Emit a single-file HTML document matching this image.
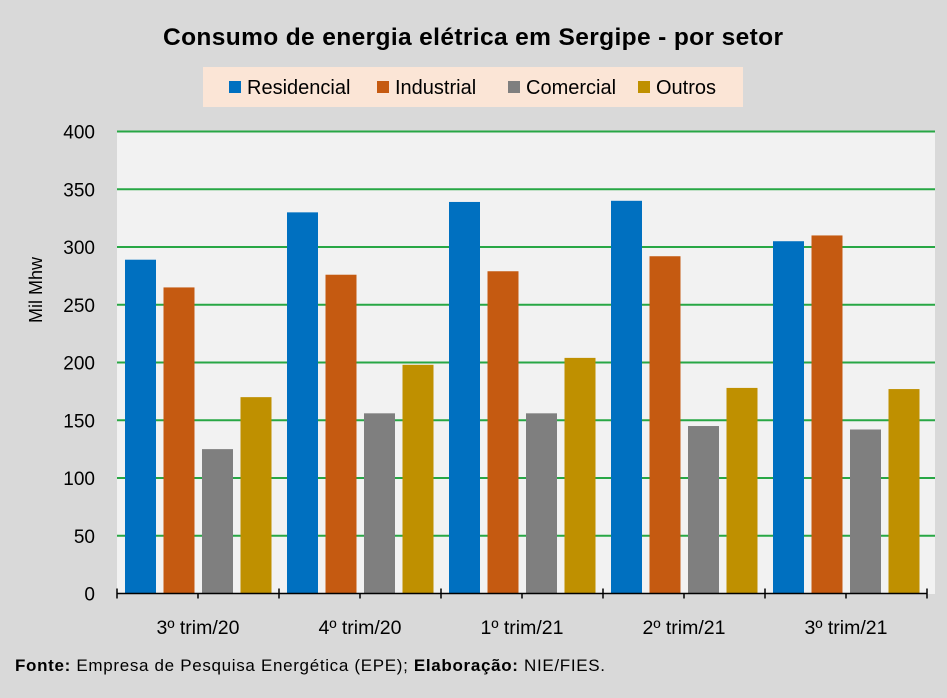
<!DOCTYPE html>
<html><head><meta charset="utf-8"><style>
body{margin:0;width:947px;height:693px;background:#d9d9d9;font-family:"Liberation Sans",sans-serif;overflow:hidden}
</style></head><body>
<svg id="c" width="947" height="693" style="font-family:'Liberation Sans',sans-serif">
<text x="473" y="45" text-anchor="middle" font-size="24.5" font-weight="bold" textLength="620">Consumo de energia elétrica em Sergipe - por setor</text>
<rect x="203" y="67" width="540" height="40" fill="#fbe5d6"/>
<g id="legend"></g>
<rect x="117" y="131" width="818" height="463" fill="#f2f2f2"/>
<g id="grid"></g><g id="bars"></g><g id="axes"></g>
<text transform="translate(42,290) rotate(-90)" text-anchor="middle" font-size="18">Mil Mhw</text>
<text x="15" y="671" font-size="17" textLength="590"><tspan font-weight="bold">Fonte:</tspan> Empresa de Pesquisa Energética (EPE); <tspan font-weight="bold">Elaboração:</tspan>  NIE/FIES.</text>
</svg>
<script>
const categories=["3º trim/20","4º trim/20","1º trim/21","2º trim/21","3º trim/21"];
const seriesNames=["Residencial","Industrial","Comercial","Outros"];
const residencial=[289,330,339,340,305];
const industrial=[265,276,279,292,310];
const comercial=[125,156,156,145,142];
const outros=[170,198,204,178,177];
const yTicks=[0,50,100,150,200,250,300,350,400];
const colors=["#0070c0","#c55a11","#7f7f7f","#bf9000"];
const series=[residencial,industrial,comercial,outros];
const NS="http://www.w3.org/2000/svg";
const x0=117,gw=162,y0=593.5,yMax=400,ph=462;
const y=v=>y0-v/yMax*ph;
function mk(t,a,p){const e=document.createElementNS(NS,t);for(const k in a)e.setAttribute(k,a[k]);p.appendChild(e);return e;}
const grid=document.getElementById('grid'),bars=document.getElementById('bars'),axes=document.getElementById('axes'),leg=document.getElementById('legend');
yTicks.forEach(t=>{
 if(t>0){const l=mk('line',{x1:x0,x2:935,y1:y(t),y2:y(t),stroke:'#28a745','stroke-width':2},grid);
 
 }
 const tx=mk('text',{x:95,y:y(t)+7,'text-anchor':'end','font-size':19},axes);tx.textContent=t;
 
 
});
series.forEach((s,si)=>s.forEach((v,i)=>{
 const r=mk('rect',{x:x0+i*gw+8+si*38.5,y:y(v),width:31,height:y0-y(v),fill:colors[si]},bars);
 
 
}));
const ax=mk('line',{x1:x0,x2:x0+5*gw,y1:y0,y2:y0,stroke:'#000','stroke-width':1.5},axes);


for(let i=0;i<=5;i++){const tk=mk('line',{x1:x0+i*gw,x2:x0+i*gw,y1:y0-5,y2:y0+5,stroke:'#000','stroke-width':1.5},axes);
 
 }
categories.forEach((c,i)=>{
 const tk=mk('line',{x1:x0+i*gw+gw/2,x2:x0+i*gw+gw/2,y1:y0,y2:y0+5,stroke:'#000','stroke-width':1.5},axes);
 
 
 const t=mk('text',{x:x0+i*gw+gw/2,y:634,'text-anchor':'middle','font-size':19.5},axes);t.textContent=c;
 
 
});
const lx=[229,377,508,638];
seriesNames.forEach((n,i)=>{
 const r=mk('rect',{x:lx[i],y:81,width:12,height:12,fill:colors[i]},leg);
 
 
 const t=mk('text',{x:lx[i]+18,y:94,'font-size':20},leg);t.textContent=n;
 
 
});
</script>
</body></html>
